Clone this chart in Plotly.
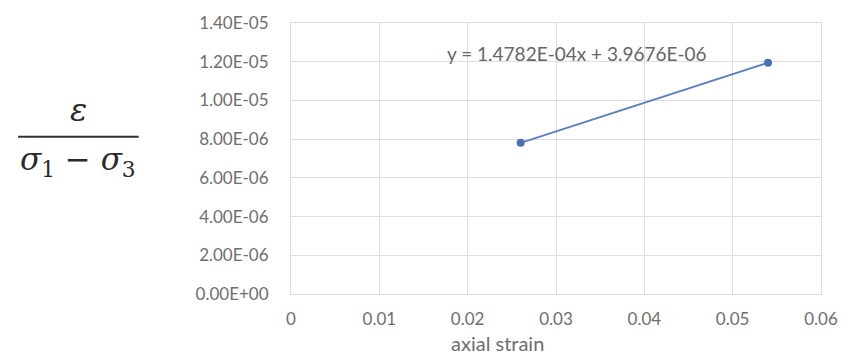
import plotly.graph_objects as go

x_strain = [0.026, 0.054]
y_ratio = [7.81e-6, 1.195e-5]
y_tickvals = [0, 2e-6, 4e-6, 6e-6, 8e-6, 1e-5, 1.2e-5, 1.4e-5]
y_ticktext = ["0.00E+00", "2.00E-06", "4.00E-06", "6.00E-06", "8.00E-06", "1.00E-05", "1.20E-05", "1.40E-05"]
x_tickvals = [0, 0.01, 0.02, 0.03, 0.04, 0.05, 0.06]
x_ticktext = ["0", "0.01", "0.02", "0.03", "0.04", "0.05", "0.06"]
equation = "y = 1.4782E-04x + 3.9676E-06"
x_title = "axial strain"

W, H = 850, 355
L, R, T, B = 291, 23, 15, 61
PW, PH = W - L - R, H - T - B

def px(x):
    return (x - L) / PW

def py(y):
    return (H - B - y) / PH

FONT = "Lato, Open Sans, sans-serif"
tick_font = dict(family=FONT, size=17, color="#6e6e6e")
grid = "#dedede"

fig = go.Figure()
fig.add_trace(go.Scatter(
    x=x_strain, y=y_ratio, mode="lines+markers",
    line=dict(color="#5b80c0", width=1.8),
    marker=dict(color="#4a70b5", size=8),
    showlegend=False,
))

fig.update_layout(
    width=W, height=H,
    margin=dict(l=L, r=R, t=T, b=B),
    paper_bgcolor="white", plot_bgcolor="white",
    xaxis=dict(range=[0, 0.06], tickvals=x_tickvals, ticktext=x_ticktext,
               showgrid=True, gridcolor=grid, gridwidth=1, zeroline=False,
               showline=True, linecolor=grid, mirror=True,
               tickfont=tick_font, ticks="", ticklabelstandoff=10),
    yaxis=dict(range=[0, 1.4e-5], tickvals=y_tickvals, ticktext=y_ticktext,
               showgrid=True, gridcolor=grid, gridwidth=1, zeroline=False,
               showline=True, linecolor=grid, mirror=True,
               tickfont=tick_font, ticks="", ticklabelstandoff=18),
    annotations=[
        dict(text=x_title, xref="paper", yref="paper", x=px(500), y=py(344),
             xanchor="center", yanchor="middle", showarrow=False,
             font=dict(family=FONT, size=20, color="#6e6e6e")),
        dict(text=equation, xref="paper", yref="paper", x=px(580), y=py(46),
             xanchor="center", yanchor="middle", showarrow=False,
             font=dict(family=FONT, size=19, color="#666666")),
        dict(text="<i>ε</i>", xref="paper", yref="paper", x=px(76), y=py(105),
             xanchor="center", yanchor="middle", showarrow=False,
             font=dict(family="DejaVu Serif, serif", size=32, color="#2a2a2a")),
        dict(text="<i>σ</i><sub>1</sub> − <i>σ</i><sub>3</sub>", xref="paper", yref="paper",
             x=px(76), y=py(158),
             xanchor="center", yanchor="middle", showarrow=False,
             font=dict(family="DejaVu Serif, serif", size=31, color="#2a2a2a")),
    ],
    shapes=[
        dict(type="line", xref="paper", yref="paper",
             x0=px(15), x1=px(137), y0=py(132), y1=py(132),
             line=dict(color="#333333", width=2)),
    ],
)

fig.write_html("out.html")
